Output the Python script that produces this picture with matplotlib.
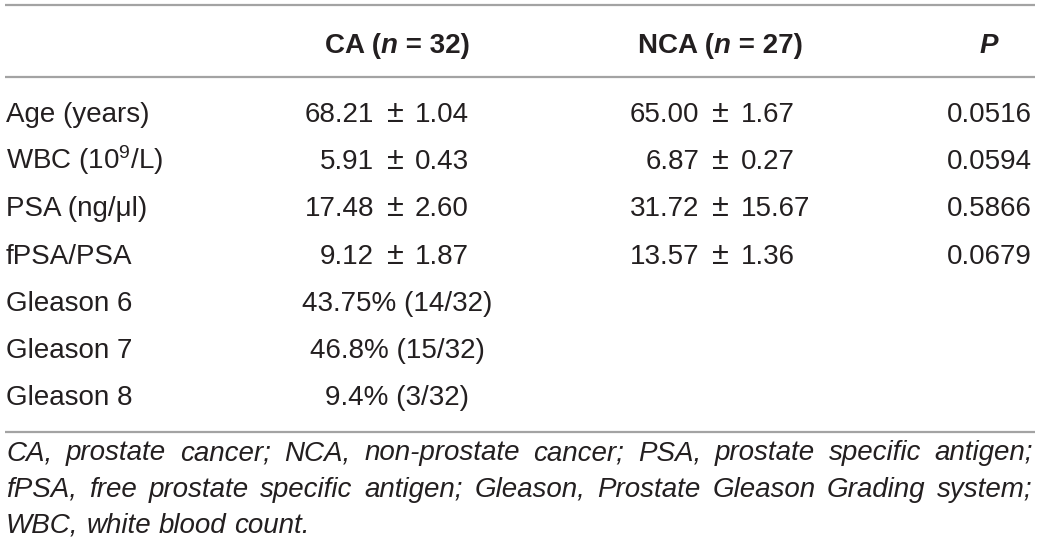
import matplotlib
matplotlib.use('Agg')
import matplotlib.pyplot as plt

plt.rcParams['font.family'] = ['Liberation Sans', 'DejaVu Sans']
plt.rcParams['mathtext.fontset'] = 'custom'
plt.rcParams['mathtext.rm'] = 'Liberation Sans'
plt.rcParams['mathtext.it'] = 'Liberation Sans:italic'

# table content
row_labels = ['Age (years)', 'WBC (10$^{9}$/L)', 'PSA (ng/\u03bcl)', 'fPSA/PSA',
              'Gleason 6', 'Gleason 7', 'Gleason 8']
ca_mean = ['68.21', '5.91', '17.48', '9.12']
ca_sd = ['1.04', '0.43', '2.60', '1.87']
nca_mean = ['65.00', '6.87', '31.72', '13.57']
nca_sd = ['1.67', '0.27', '15.67', '1.36']
p_values = ['0.0516', '0.0594', '0.5866', '0.0679']
gleason_ca = ['43.75% (14/32)', '46.8% (15/32)', '9.4% (3/32)']
ca_n, nca_n = 32, 27
footnote = [
    'CA, prostate cancer; NCA, non-prostate cancer; PSA, prostate specific antigen;',
    'fPSA, free prostate specific antigen; Gleason, Prostate Gleason Grading system;',
    'WBC, white blood count.',
]

TXT = '#231f20'
RULE = '#a3a3a3'
FS = 20

fig = plt.figure(figsize=(10.4, 5.53), dpi=100)
ax = fig.add_axes([0, 0, 1, 1])
ax.set_xlim(0, 1040)
ax.set_ylim(553, 0)
ax.axis('off')
renderer = fig.canvas.get_renderer()


def width_of(t):
    return t.get_window_extent(renderer=renderer).width


def pieces(parts, x, y):
    # parts: list of (text, weight, style), centred as a group on x
    objs = [ax.text(0, y, s, fontsize=FS, fontweight=w, fontstyle=st,
                    color=TXT, va='baseline', ha='left') for s, w, st in parts]
    ws = [width_of(o) for o in objs]
    x0 = x - sum(ws) / 2
    for o, w in zip(objs, ws):
        o.set_x(x0)
        x0 += w


def justify(line, y, x0, x1, last=False):
    words = line.split(' ')
    objs = [ax.text(0, y, w, fontsize=FS, fontstyle='italic', color=TXT,
                    va='baseline', ha='left') for w in words]
    ws = [width_of(o) for o in objs]
    if last:
        gap = 0.278 * FS * 100 / 72
    else:
        gap = (x1 - x0 - sum(ws)) / (len(words) - 1)
    x = x0
    for o, w in zip(objs, ws):
        o.set_x(x)
        x += w + gap


def mean_sd(mean, sd, y, x_pm):
    ax.text(x_pm - 21, y, mean, fontsize=FS, color=TXT, ha='right', va='baseline')
    ax.text(x_pm, y, '\u00b1', fontsize=22, color=TXT, ha='center', va='baseline')
    ax.text(x_pm + 20, y, sd, fontsize=FS, color=TXT, ha='left', va='baseline')


# rules
for yy in (5, 76.5, 432):
    ax.plot([5, 1035], [yy, yy], color=RULE, lw=1.6, solid_capstyle='butt')

# column positions
x_label = 6
x_ca, x_ca_pm = 397, 395
x_nca, x_nca_pm = 720, 720.5
x_p = 989

# header
head_y = 53
pieces([('CA (', 'bold', 'normal'), ('n', 'bold', 'italic'),
        (' = %d)' % ca_n, 'bold', 'normal')], x_ca, head_y)
pieces([('NCA (', 'bold', 'normal'), ('n', 'bold', 'italic'),
        (' = %d)' % nca_n, 'bold', 'normal')], x_nca, head_y)
ax.text(x_p, head_y, 'P', fontsize=FS, fontweight='bold', fontstyle='italic',
        color=TXT, ha='center', va='baseline')

# body rows
row_y = [122 + i * 47.2 for i in range(len(row_labels))]
for i, lab in enumerate(row_labels):
    ax.text(x_label, row_y[i], lab, fontsize=FS, color=TXT, ha='left', va='baseline')

for i in range(len(ca_mean)):
    y = row_y[i]
    mean_sd(ca_mean[i], ca_sd[i], y, x_ca_pm)
    mean_sd(nca_mean[i], nca_sd[i], y, x_nca_pm)
    ax.text(x_p, y, p_values[i], fontsize=FS, color=TXT, ha='center', va='baseline')

for j, g in enumerate(gleason_ca):
    ax.text(x_ca, row_y[len(ca_mean) + j], g, fontsize=FS, color=TXT,
            ha='center', va='baseline')

# footnote
foot_y = [460, 497, 533]
for k, line in enumerate(footnote):
    justify(line, foot_y[k], 6, 1033, last=(k == len(footnote) - 1))

fig.savefig('out.png', dpi=100)
